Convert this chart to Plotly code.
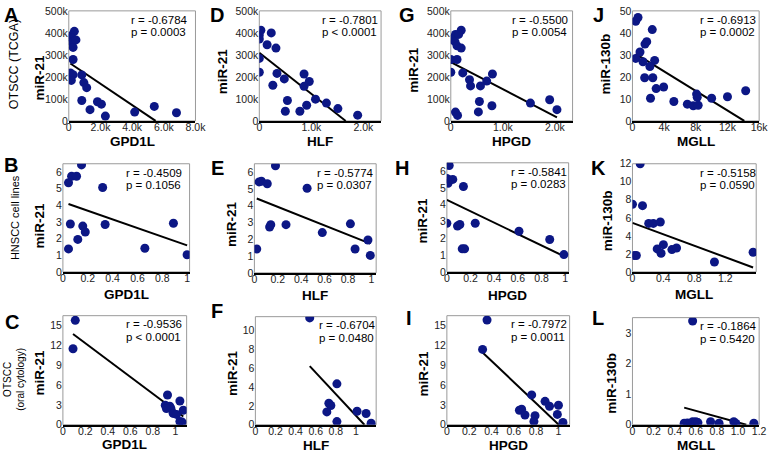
import numpy as np
import plotly.graph_objects as go

W, H = 778, 459

# ---- TCGA OTSCC (row 1) ----
gpd1l_tcga = [350, 160, 140, 200, 450, 270, 270, 100, 270, 160, 820, 950, 1130, 820, 1810, 2060, 1340, 2310, 4160, 5400, 6800]
mir21_gpd1l_tcga = [407e3, 387e3, 378e3, 357e3, 368e3, 334e3, 279e3, 218e3, 210e3, 184e3, 209e3, 174e3, 151e3, 93e3, 87e3, 76e3, 51e3, 22e3, 40e3, 66e3, 37e3]

hlf_tcga = [30, 0, 0, 230, 150, 320, 0, 0, 340, 260, 480, 860, 960, 860, 540, 500, 780, 910, 1080, 1290, 1510, 1890]
mir21_hlf_tcga = [412e3, 390e3, 372e3, 400e3, 346e3, 331e3, 284e3, 221e3, 216e3, 162e3, 191e3, 213e3, 179e3, 157e3, 93e3, 44e3, 44e3, 71e3, 99e3, 81e3, 56e3, 26e3]

hpgd_tcga = [200, 90, 150, 10, 80, 120, 200, 0, 120, 0, 230, 360, 380, 570, 690, 800, 550, 530, 790, 90, 130, 1530, 1900, 2040]
mir21_hpgd_tcga = [412e3, 393e3, 393e3, 371e3, 360e3, 341e3, 331e3, 279e3, 279e3, 221e3, 218e3, 187e3, 159e3, 159e3, 181e3, 213e3, 88e3, 41e3, 69e3, 40e3, 25e3, 81e3, 96e3, 51e3]

mgll_tcga = [410, 700, 410, 950, 1580, 1800, 2500, 1330, 2800, 1540, 2570, 2200, 2990, 3940, 2280, 5230, 6930, 7680, 8100, 8180, 8300, 10000, 12000, 14300]
mir130b_mgll_tcga = [45.3, 47, 28.4, 31.3, 34.9, 36, 41.5, 26.9, 27.5, 19.6, 19.6, 24.7, 14.7, 15.4, 10.3, 8.8, 7.6, 6.9, 12.2, 10.7, 7.1, 10.3, 11.0, 13.7]

# ---- HNSCC cell lines (row 2) ----
gpd1l_cells = [0.15, 0.07, 0.11, 0.045, 0.32, 0.06, 0.16, 0.18, 0.34, 0.12, 0.045, 0.66, 0.89, 1.0]
mir21_gpd1l_cells = [6.43, 5.75, 5.75, 5.36, 5.07, 2.88, 2.75, 2.4, 2.85, 1.95, 1.38, 1.42, 2.92, 1.03]

hlf_cells = [0.18, 0.04, 0.06, 0.11, 0.45, 0.02, 0.13, 0.14, 0.27, 0.58, 0.82, 0.97, 0.86, 0.99]
mir21_hlf_cells = [6.38, 5.42, 5.46, 5.31, 5.04, 1.42, 2.73, 2.87, 2.87, 2.4, 2.92, 1.96, 1.42, 1.04]

hpgd_cells = [0.02, 0, 0.02, 0.01, 0.05, 0.14, 0, 0.09, 0.11, 0.24, 0.13, 0.15, 0.61, 0.87, 0.99]
mir21_hpgd_cells = [6.34, 5.57, 5.47, 5.28, 5.51, 5.09, 2.9, 2.73, 2.82, 2.9, 1.37, 1.37, 2.42, 1.93, 1.03]

mgll_cells = [0.1, 0, 0.13, 0.02, 0.05, 0.21, 0.27, 0.36, 0.32, 0.4, 0.37, 0.51, 0.57, 1.06, 1.56]
mir130b_mgll_cells = [12, 7.5, 7.35, 1.82, 1.82, 5.38, 5.38, 5.53, 2.55, 3.02, 2.07, 2.47, 2.65, 1.09, 2.18]

# ---- OTSCC oral cytology (row 3) ----
gpd1l_cyto = [0.11, 0.09, 0.93, 1.04, 0.91, 0.95, 0.96, 0.92, 0.98, 1.01, 1.07, 1.04, 1.06]
mir21_gpd1l_cyto = [15.8, 11.5, 4.5, 3.6, 2.95, 2.8, 2.46, 2.46, 1.72, 1.57, 2.2, 0.5, 0.4]

hlf_cyto = [0.54, 0.81, 0.73, 0.75, 0.71, 1.01, 1.1, 0.81, 1.15]
mir21_hlf_cyto = [11.37, 4.35, 2.29, 2.05, 1.37, 1.44, 1.2, 0.34, 0.17]

hpgd_cyto = [0.36, 0.32, 0.76, 0.88, 0.92, 1.0, 0.99, 0.65, 0.67, 0.7, 0.79, 0.78, 1.04]
mir21_hpgd_cyto = [15.84, 11.4, 4.52, 3.54, 2.8, 2.95, 1.57, 2.2, 2.36, 1.48, 1.38, 0.49, 0.34]

mgll_cyto = [0.57, 0.49, 0.52, 0.55, 0.57, 0.6, 0.62, 0.74, 0.82, 0.96, 0.98, 1.15]
mir130b_mgll_cyto = [3.39, 0.05, 0.06, 0.04, 0.1, 0.1, 0.07, 0.1, 0.05, 0.1, 0.04, 0.05]

# correlation stats printed on each panel
r_text = ["-0.6784", "-0.7801", "-0.5500", "-0.6913",
          "-0.4509", "-0.5774", "-0.5841", "-0.5158",
          "-0.9536", "-0.6704", "-0.7972", "-0.1864"]
p_text = ["= 0.0003", "< 0.0001", "= 0.0054", "= 0.0002",
          "= 0.1056", "= 0.0307", "= 0.0283", "= 0.0590",
          "< 0.0001", "= 0.0480", "= 0.0011", "= 0.5420"]

# tick labels
k_vals_500 = [0, 100e3, 200e3, 300e3, 400e3, 500e3]
k_text_500 = ["0", "100k", "200k", "300k", "400k", "500k"]
gpd1l_tcga_ticks = [0, 2000, 4000, 6000, 8000]
gpd1l_tcga_text = ["0", "2.0k", "4.0k", "6.0k", "8.0k"]
k2_ticks = [0, 1000, 2000]
k2_text = ["0", "1.0k", "2.0k"]
mgll_tcga_ticks = [0, 4000, 8000, 12000, 16000]
mgll_tcga_text = ["0", "4k", "8k", "12k", "16k"]
unit_ticks = [0, 0.2, 0.4, 0.6, 0.8, 1]
unit_text = ["0", "0.2", "0.4", "0.6", "0.8", "1"]
mgll_cell_ticks = [0, 0.4, 0.8, 1.2]
mgll_cell_text = ["0", "0.4", "0.8", "1.2"]
mgll_cyto_ticks = [0, 0.2, 0.4, 0.6, 0.8, 1.0, 1.2]
mgll_cyto_text = ["0", "0.2", "0.4", "0.6", "0.8", "1.0", "1.2"]

FONT = "Liberation Sans, Arial, sans-serif"
NAVY = "#0c1785"

# panel: letter, x, y, box px (l, r, t, b), xrange, yrange, xticks, yticks, xlabel, ylabel, label positions
panels = [
    dict(letter="A", x=gpd1l_tcga, y=mir21_gpd1l_tcga, box=(67, 196, 5, 118), xr=[0, 8000], yr=[0, 500e3],
         xt=(gpd1l_tcga_ticks, gpd1l_tcga_text), yt=(k_vals_500, k_text_500), xl="GPD1L", yl="miR-21",
         lp=(8, 9), ylp=(37, 73), xlp=139, rp=128),
    dict(letter="D", x=hlf_tcga, y=mir21_hlf_tcga, box=(261, 385, 5, 118), xr=[0, 2340], yr=[0, 500e3],
         xt=(k2_ticks, k2_text), yt=(k_vals_500, k_text_500), xl="HLF", yl="miR-21",
         lp=(218, 9), ylp=(223, 67), xlp=139, rp=323),
    dict(letter="G", x=hpgd_tcga, y=mir21_hpgd_tcga, box=(456, 580, 5, 118), xr=[0, 2340], yr=[0, 500e3],
         xt=(k2_ticks, k2_text), yt=(k_vals_500, k_text_500), xl="HPGD", yl="miR-21",
         lp=(411, 9), ylp=(418, 65), xlp=139, rp=516),
    dict(letter="J", x=mgll_tcga, y=mir130b_mgll_tcga, box=(641, 770, 5, 118), xr=[0, 16000], yr=[0, 50],
         xt=(mgll_tcga_ticks, mgll_tcga_text), yt=([0, 10, 20, 30, 40, 50], None), xl="MGLL", yl="miR-130b",
         lp=(606, 9), ylp=(613, 59), xlp=139, rp=708),
    dict(letter="B", x=gpd1l_cells, y=mir21_gpd1l_cells, box=(61, 190, 162, 273), xr=[0, 1.02], yr=[0, 6.5],
         xt=(unit_ticks, unit_text), yt=([0, 1, 2, 3, 4, 5, 6], None), xl="GPD1L", yl="miR-21",
         lp=(8, 163), ylp=(37, 225), xlp=296, rp=123),
    dict(letter="E", x=hlf_cells, y=mir21_hlf_cells, box=(256, 380, 162, 274), xr=[0, 1.04], yr=[0, 6.5],
         xt=(unit_ticks, unit_text), yt=([0, 1, 2, 3, 4, 5, 6], None), xl="HLF", yl="miR-21",
         lp=(218, 166), ylp=(232, 224), xlp=297, rp=318),
    dict(letter="H", x=hpgd_cells, y=mir21_hpgd_cells, box=(452, 576, 161, 273), xr=[0, 1.03], yr=[0, 6.5],
         xt=(unit_ticks, unit_text), yt=([0, 1, 2, 3, 4, 5, 6], None), xl="HPGD", yl="miR-21",
         lp=(406, 166), ylp=(427, 220), xlp=297, rp=515),
    dict(letter="K", x=mgll_cells, y=mir130b_mgll_cells, box=(641, 767, 162, 273), xr=[0, 1.6], yr=[0, 12],
         xt=(mgll_cell_ticks, mgll_cell_text), yt=([0, 2, 4, 6, 8, 10, 12], None), xl="MGLL", yl="miR-130b",
         lp=(606, 166), ylp=(615, 220), xlp=296, rp=708),
    dict(letter="C", x=gpd1l_cyto, y=mir21_gpd1l_cyto, box=(61, 187, 318, 430), xr=[0, 1.1], yr=[0, 16.5],
         xt=(unit_ticks, unit_text), yt=([0, 3, 6, 9, 12, 15], None), xl="GPD1L", yl="miR-21",
         lp=(9, 324), ylp=(37, 376), xlp=450, rp=123),
    dict(letter="F", x=hlf_cyto, y=mir21_hlf_cyto, box=(257, 380, 319, 430), xr=[0, 1.2], yr=[0, 11.5],
         xt=(unit_ticks, unit_text), yt=([0, 2, 4, 6, 8, 10], None), xl="HLF", yl="miR-21",
         lp=(218, 313), ylp=(233, 377), xlp=451, rp=320),
    dict(letter="I", x=hpgd_cyto, y=mir21_hpgd_cyto, box=(452, 577, 318, 430), xr=[0, 1.1], yr=[0, 16.5],
         xt=(unit_ticks, unit_text), yt=([0, 3, 6, 9, 12, 15], None), xl="HPGD", yl="miR-21",
         lp=(413, 320), ylp=(428, 377), xlp=451, rp=515),
    dict(letter="L", x=mgll_cyto, y=mir130b_mgll_cyto, box=(641, 770, 320, 430), xr=[0, 1.2], yr=[0, 3.5],
         xt=(mgll_cyto_ticks, mgll_cyto_text), yt=([0, 1, 2, 3], None), xl="MGLL", yl="miR-130b",
         lp=(606, 320), ylp=(620, 387), xlp=451, rp=708),
]


def px_x(v):
    return v / W


def px_y(v):
    return 1 - v / H


fig = go.Figure()
annotations = []
shapes = []
layout_axes = {}

for i, p in enumerate(panels):
    n = "" if i == 0 else str(i + 1)
    xa, ya = "x" + n, "y" + n
    l, r, t, b = p["box"]
    x = np.array(p["x"], dtype=float)
    y = np.array(p["y"], dtype=float)

    # least squares trend line, clipped at y = 0 like the original
    m, c = np.polyfit(x, y, 1)
    x_end = x.max()
    if m < 0:
        x_end = min(x_end, -c / m)
    tx = np.array([x.min(), x_end])
    fig.add_trace(go.Scatter(x=tx, y=m * tx + c, mode="lines", xaxis=xa, yaxis=ya,
                             line=dict(color="black", width=2), hoverinfo="skip", showlegend=False))
    fig.add_trace(go.Scatter(x=x, y=y, mode="markers", xaxis=xa, yaxis=ya, showlegend=False,
                             marker=dict(color=NAVY, size=9, line=dict(width=0))))

    xticks, xtext = p["xt"]
    yticks, ytext = p["yt"]
    layout_axes["xaxis" + n] = dict(
        domain=[px_x(l), px_x(r)], anchor=ya, range=p["xr"], tickvals=xticks, ticktext=xtext,
        showgrid=False, zeroline=False, showline=True, linecolor="black", linewidth=1.5,
        ticks="", ticklabelstandoff=-4, tickfont=dict(size=10.5, color="#222"), fixedrange=True,
    )
    yd = dict(
        domain=[px_y(b), px_y(t)], anchor=xa, range=p["yr"], tickvals=yticks,
        showgrid=False, zeroline=False, showline=False, ticks="",
        tickfont=dict(size=10.5, color="#222"), fixedrange=True,
    )
    if ytext is not None:
        yd["ticktext"] = ytext
    layout_axes["yaxis" + n] = yd

    shapes.append(dict(type="rect", xref="paper", yref="paper", x0=px_x(l), x1=px_x(r),
                       y0=px_y(b), y1=px_y(t), line=dict(color="#9a9a9a", width=1), layer="below"))

    annotations.append(dict(text="<b>%s</b>" % p["letter"], x=px_x(p["lp"][0]), y=px_y(p["lp"][1]),
                            xref="paper", yref="paper", showarrow=False, xanchor="center", yanchor="middle",
                            font=dict(size=20, color="black", family=FONT)))
    annotations.append(dict(text="<b>%s</b>" % p["xl"], x=px_x((l + r) / 2), y=px_y(p["xlp"]),
                            xref="paper", yref="paper", showarrow=False, xanchor="center", yanchor="middle",
                            font=dict(size=13.5, color="black", family=FONT)))
    annotations.append(dict(text="<b>%s</b>" % p["yl"], x=px_x(p["ylp"][0]), y=px_y(p["ylp"][1]),
                            xref="paper", yref="paper", showarrow=False, xanchor="center", yanchor="middle",
                            textangle=-90, font=dict(size=13.5, color="black", family=FONT)))
    annotations.append(dict(text="r = %s" % r_text[i], x=px_x(p["rp"]), y=px_y(t + 9),
                            xref="paper", yref="paper", showarrow=False, xanchor="left", yanchor="middle",
                            font=dict(size=11.5, color="black", family=FONT)))
    annotations.append(dict(text="p %s" % p_text[i], x=px_x(p["rp"]), y=px_y(t + 22),
                            xref="paper", yref="paper", showarrow=False, xanchor="left", yanchor="middle",
                            font=dict(size=11.5, color="black", family=FONT)))

# row labels
for text, xpx, ypx, size in [("OTSCC (TCGA)", 12, 60, 12.5),
                             ("HNSCC cell lines", 13, 217, 11),
                             ("OTSCC<br>(oral cytology)", 11, 383, 10)]:
    annotations.append(dict(text=text, x=px_x(xpx), y=px_y(ypx), xref="paper", yref="paper",
                            showarrow=False, textangle=-90, xanchor="center", yanchor="middle",
                            font=dict(size=size, color="black", family=FONT)))

fig.update_layout(
    width=W, height=H,
    margin=dict(l=0, r=0, t=0, b=0),
    paper_bgcolor="white", plot_bgcolor="white",
    font=dict(family=FONT, size=11, color="black"),
    showlegend=False,
    annotations=annotations,
    shapes=shapes,
    **layout_axes,
)

# the page body has a default 8px margin; drop it so the figure sits at the window origin
fig.write_html("out.html", config={"displayModeBar": False},
               post_script="document.body.style.margin='0';")
